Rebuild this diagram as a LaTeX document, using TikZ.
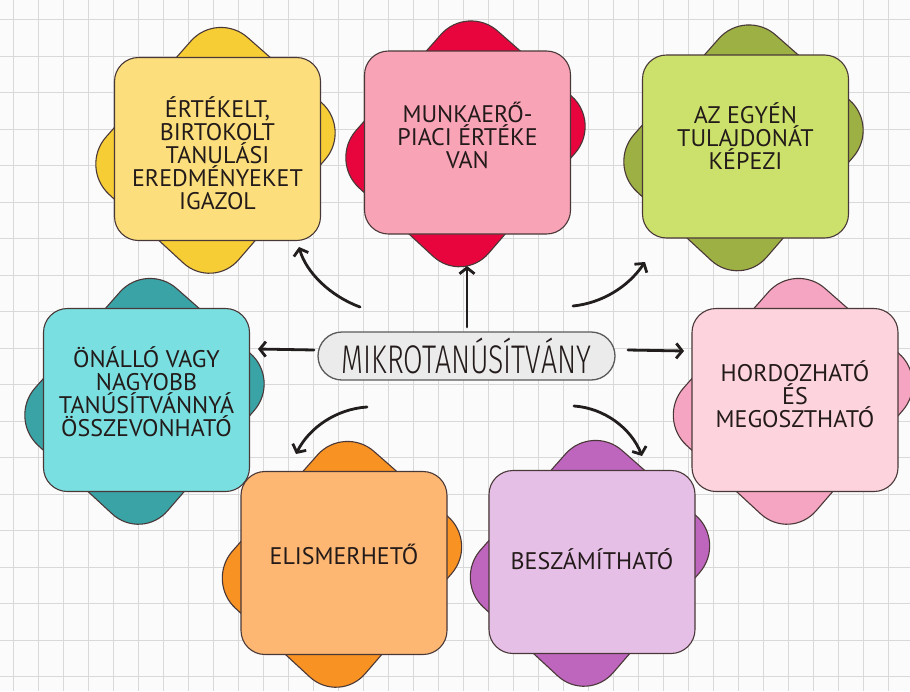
\documentclass[tikz,border=0pt]{standalone}
\usepackage{fontspec}
\setmainfont{PT Sans}
\newfontfamily\pillfont[FakeStretch=0.71]{Fira Sans Light}
\usetikzlibrary{arrows.meta}
\definecolor{bgc}{HTML}{FBFBFB}
\definecolor{gridc}{HTML}{D9D9D9}
\definecolor{edgec}{HTML}{4A3838}
\definecolor{txtc}{HTML}{231A1A}
\definecolor{arrc}{HTML}{231E1E}
\definecolor{pillfill}{HTML}{EBEBEB}
\definecolor{pilledge}{HTML}{5A5A5A}
\definecolor{yelF}{HTML}{FCDF7C}\definecolor{yelB}{HTML}{F7CD35}
\definecolor{pinF}{HTML}{F9A3B7}\definecolor{pinB}{HTML}{E8053E}
\definecolor{greF}{HTML}{CCE16B}\definecolor{greB}{HTML}{9CB043}
\definecolor{teaF}{HTML}{7ADFE0}\definecolor{teaB}{HTML}{3AA3A6}
\definecolor{lpiF}{HTML}{FDD4DE}\definecolor{lpiB}{HTML}{F5A5C1}
\definecolor{oraF}{HTML}{FDB772}\definecolor{oraB}{HTML}{F89223}
\definecolor{purF}{HTML}{E6BFE7}\definecolor{purB}{HTML}{BE66BD}
\tikzset{
  gridline/.style={draw=gridc, line width=0.7pt},
  frontbox/.style={draw=edgec, line width=1.1pt, rounded corners=24pt,
    minimum width=206pt, minimum height=183pt, inner sep=0pt},
  backshape/.style={draw=edgec, line width=1.1pt, rounded corners=40pt},
  boxtext/.style={font=\fontsize{24}{23}\selectfont, text=txtc, align=center, inner sep=0pt},
  pill/.style={draw=pilledge, fill=pillfill, line width=1.3pt, rounded corners=24pt,
    minimum width=297pt, minimum height=48pt, inner sep=0pt, text=txtc},
  conn/.style={draw=arrc, line width=2.8pt, line cap=round,
    -{Straight Barb[length=6pt,width=15pt]}},
}
\newcommand\petalbox[5]{%
  \begin{scope}[shift={(#2,#3)}]
    \draw[backshape, fill=#4] (0,-138) -- (134,-20) -- (-5,141) -- (-138,18) -- cycle;
  \end{scope}
  \node[frontbox, fill=#5] (#1) at (#2,#3) {};
}
\begin{document}
\begin{tikzpicture}[x=1pt,y=-1pt]
\useasboundingbox (0,0) rectangle (910,691);
\fill[bgc] (0,0) rectangle (910,691);
\foreach \i in {0,...,36} \draw[gridline] ({13+25*\i},0) -- ({13+25*\i},691);
\foreach \j in {0,...,18} \draw[gridline] (0,{19.5+36.5*\j}) -- (910,{19.5+36.5*\j});

\petalbox{b1}{217.5}{149}{yelB}{yelF}
\petalbox{b2}{467.5}{142.5}{pinB}{pinF}
\petalbox{b3}{745.5}{146.5}{greB}{greF}
\petalbox{b4}{146.5}{400}{teaB}{teaF}
\petalbox{b5}{795}{400}{lpiB}{lpiF}
\petalbox{b6}{344}{563}{oraB}{oraF}
\petalbox{b7}{592}{562}{purB}{purF}

\node[boxtext] (t1) at (217.5,153) {ÉRTÉKELT,\\BIRTOKOLT\\TANULÁSI\\EREDMÉNYEKET\\IGAZOL};
\node[boxtext] (t2) at (467.5,135) {MUNKAERŐ-\\PIACI ÉRTÉKE\\VAN};
\node[boxtext] (t3) at (745.5,136) {AZ EGYÉN\\TULAJDONÁT\\KÉPEZI};
\node[boxtext] (t4) at (146.5,392) {ÖNÁLLÓ VAGY\\NAGYOBB\\TANÚSÍTVÁNNYÁ\\ÖSSZEVONHATÓ};
\node[boxtext] (t5) at (795,394) {HORDOZHATÓ\\ÉS\\MEGOSZTHATÓ};
\node[boxtext] (t6) at (344,554) {ELISMERHETŐ};
\node[boxtext] (t7) at (592,559) {BESZÁMÍTHATÓ};

\node[pill] (m) at (466.5,356) {\pillfont\fontsize{40}{40}\selectfont MIKROTANÚSÍTVÁNY};

\coordinate (s1) at (360,307); \coordinate (e1) at (299,247);
\coordinate (s2) at (467,327); \coordinate (e2) at (467,266);
\coordinate (s3) at (573,306); \coordinate (e3) at (645,262);
\coordinate (s4) at (314,350); \coordinate (e4) at (258,349);
\coordinate (s5) at (628,350); \coordinate (e5) at (684,351);
\coordinate (s6) at (367,407); \coordinate (e6) at (296,454);
\coordinate (s7) at (574,406); \coordinate (e7) at (642,456);

\draw[conn] (s1) .. controls (330,296) and (306,272) .. (e1);
\draw[conn] (s2) -- (e2);
\draw[conn] (s3) .. controls (602,303) and (628,287) .. (e3);
\draw[conn] (s4) -- (e4);
\draw[conn] (s5) -- (e5);
\draw[conn] (s6) .. controls (336,409) and (309,428) .. (e6);
\draw[conn] (s7) .. controls (604,408) and (631,428) .. (e7);
\end{tikzpicture}
\end{document}
